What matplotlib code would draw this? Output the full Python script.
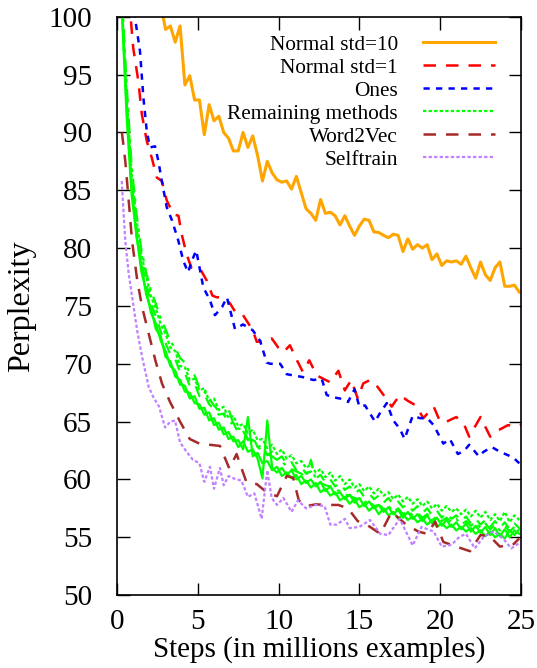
import numpy as np
import matplotlib
matplotlib.use('Agg')
import matplotlib.pyplot as plt

plt.rcParams['font.family'] = ['Liberation Serif', 'DejaVu Serif']

# data (x in millions of examples, y = perplexity)
normal10_steps = 0.3 * np.arange(9, 84)
normal10 = [101.1, 98.9, 99.2, 97.8, 99.2, 94.1, 94.9, 92.8, 92.8, 89.8,
            92.4, 91.0, 91.4, 90.0, 89.5, 88.4, 88.4, 90.0, 88.7, 89.7,
            88.0, 85.8, 87.5, 86.5, 85.9, 85.7, 85.8, 85.1, 86.2, 84.8,
            83.4, 83.0, 82.4,
            84.2, 83.0, 83.1, 82.8, 82.0, 82.8, 81.9, 81.1, 81.9, 82.5,
            82.4, 81.4, 81.35, 81.1, 80.9, 81.2, 81.1, 79.7, 80.8, 79.9,
            80.3, 80.0, 80.3, 79.0, 79.5, 78.5, 78.9, 78.8, 78.9, 78.6,
            79.3, 78.3, 77.4, 78.8, 77.7, 77.2, 78.3, 78.8, 76.7, 76.7,
            76.8, 76.2]

normal1_steps = [0.6, 1.0, 1.32, 1.53, 1.84, 2.15, 2.46, 2.77, 3.08, 3.5,
                 3.8, 4.0, 4.3, 4.6, 5.1, 5.55, 5.9, 6.16, 6.6, 7.0,
                 7.4, 7.8, 8.4, 8.65, 9.27, 9.57, 9.98, 10.3, 10.7, 11.1,
                 11.5, 11.9, 12.36, 12.77, 13.2, 13.7, 14.1, 14.5, 14.9, 15.24,
                 15.66, 15.97, 16.5, 17.0, 17.5, 18.0, 18.5, 18.96, 19.6, 20.0,
                 20.4, 21.0, 21.5, 21.8, 22.5, 23.1, 23.6, 24.2, 24.7, 25.0]
normal1 = [104.0, 97.3, 94.4, 91.6, 89.25, 87.8, 86.1, 85.8, 84.1, 82.9,
           82.8, 81.2, 79.5, 78.3, 78.3, 77.2, 75.9, 75.75, 75.75, 75.2,
           74.3, 74.2, 72.9, 71.9, 72.0, 72.2, 71.4, 71.0, 71.6, 70.4,
           69.3, 70.3, 69.0, 68.7, 68.4, 69.4, 67.7, 68.6, 67.0, 68.3,
           68.6, 68.3, 67.3, 66.3, 67.3, 66.8, 66.4, 65.3, 66.3, 65.0,
           65.0, 65.4, 64.7, 63.7, 65.4, 63.7, 64.25, 64.7, 64.55, 64.7]

ones_steps = [0.9, 1.1, 1.42, 1.63, 1.84, 2.04, 2.35, 2.56, 2.77, 3.08,
              3.4, 3.8, 4.1, 4.4, 4.6, 4.9, 5.34, 5.75, 6.06, 6.5,
              6.8, 7.3, 7.8, 8.4, 8.85, 9.27, 9.5, 10.1, 10.5, 10.9,
              11.5, 12.15, 12.67, 12.98, 13.4, 13.8, 14.3, 14.7, 15.0, 15.35,
              15.97, 16.3, 16.7, 17.1, 17.5, 17.8, 18.3, 18.75, 19.2, 19.6,
              20.2, 20.6, 21.1, 21.5, 21.8, 22.4, 22.7, 23.2, 23.7, 24.2,
              24.6, 24.9]
ones = [104.0, 100.0, 97.0, 93.0, 90.1, 88.7, 88.8, 87.5, 85.8, 83.5,
        82.4, 80.6, 78.9, 77.9, 78.8, 79.8, 76.6, 75.5, 74.2, 74.9,
        75.75, 73.0, 73.4, 72.9, 72.0, 70.1, 70.0, 70.0, 69.1, 69.0,
        68.85, 68.6, 68.7, 67.3, 67.1, 67.0, 66.7, 67.8, 66.3, 66.4,
        65.0, 65.8, 66.6, 65.1, 64.4, 63.5, 65.5, 65.3, 65.3, 64.7,
        63.1, 63.5, 62.2, 62.5, 63.0, 62.0, 62.4, 62.8, 62.4, 62.1,
        61.8, 61.4]

# "Remaining methods": several runs, all drawn in green
remaining_solid_a = [100.3, 91.2, 84.6, 81.2, 78.0, 76.3, 74.4, 73.5, 72.0, 71.1,
                     69.8, 69.4, 68.2, 68.1, 67.0, 67.2, 66.1, 66.2, 65.1, 65.3,
                     64.3, 64.5, 63.5, 63.7, 62.8, 63.3, 62.4, 62.6, 61.8, 60.1,
                     65.1, 61.0, 60.6, 61.0, 60.4, 60.8, 60.0, 60.3, 59.7, 60.0,
                     59.4, 59.8, 59.0, 59.4, 58.7, 58.9, 58.3, 58.7, 58.0, 58.4,
                     57.7, 58.1, 57.5, 57.8, 57.2, 57.6, 57.0, 57.4, 56.7, 57.2,
                     56.6, 57.0, 56.4, 56.9, 56.2, 56.7, 56.0, 56.5, 55.9, 56.3,
                     55.7, 56.2, 55.5, 56.0, 55.4, 55.9, 55.2, 55.8, 55.1, 55.7,
                     55.0, 55.6, 55.3]
remaining_solid_b = [100.8, 92.5, 85.5, 81.0, 78.6, 76.0, 74.8, 73.0, 72.4, 70.6,
                     70.2, 68.9, 68.6, 67.6, 67.5, 66.6, 66.5, 65.6, 65.8, 64.7,
                     64.9, 63.9, 64.1, 63.3, 63.4, 62.6, 65.4, 62.0, 62.3, 61.4,
                     61.6, 60.8, 61.1, 60.3, 60.6, 60.1, 60.4, 59.6, 59.9, 59.3,
                     59.7, 58.9, 59.2, 58.6, 58.9, 58.2, 58.5, 57.9, 58.3, 57.6,
                     57.9, 57.3, 57.7, 57.0, 57.5, 56.9, 57.2, 56.6, 57.0, 56.5,
                     56.8, 56.3, 56.6, 56.1, 56.5, 55.9, 56.2, 55.8, 56.1, 55.6,
                     55.9, 55.5, 55.8, 55.3, 55.6, 55.1, 55.5, 55.0, 55.3, 54.9,
                     55.6, 55.2, 55.7]
remaining_dashed = [100.8, 92.0, 85.6, 81.8, 78.8, 77.0, 75.2, 74.1, 72.8, 71.8,
                    70.8, 70.4, 69.3, 69.2, 68.1, 68.3, 67.2, 67.4, 66.5, 66.1,
                    65.6, 65.7, 64.8, 64.9, 64.0, 64.2, 63.4, 63.7, 62.8, 63.0,
                    62.1, 62.4, 61.7, 62.0, 61.3, 61.5, 60.8, 61.1, 60.5, 60.7,
                    60.1, 60.4, 59.7, 60.0, 59.4, 59.7, 59.1, 59.4, 58.8, 59.1,
                    58.5, 58.8, 58.3, 58.6, 58.0, 58.4, 57.8, 58.1, 57.6, 57.9,
                    57.3, 57.7, 57.1, 57.5, 56.9, 57.3, 56.7, 57.1, 56.6, 56.9,
                    56.4, 56.8, 56.2, 56.6, 56.1, 56.5, 55.9, 56.4, 55.8, 56.3,
                    55.7, 56.2, 55.8]
remaining_dotted = [101.3, 93.0, 86.5, 82.5, 79.5, 77.6, 75.8, 74.8, 73.4, 72.6,
                    71.4, 71.1, 69.8, 69.7, 68.6, 68.7, 67.7, 67.9, 66.8, 67.0,
                    66.0, 66.3, 65.3, 65.5, 64.6, 64.8, 64.0, 64.3, 63.4, 63.5,
                    62.7, 63.0, 62.2, 62.6, 61.8, 62.1, 61.4, 61.6, 61.0, 61.3,
                    60.6, 60.9, 60.2, 60.6, 59.9, 60.3, 59.6, 60.0, 59.3, 59.6,
                    59.0, 59.4, 58.8, 59.2, 58.6, 58.9, 58.3, 58.7, 58.1, 58.5,
                    57.9, 58.3, 57.7, 58.1, 57.5, 57.9, 57.3, 57.7, 57.2, 57.5,
                    57.0, 57.4, 56.8, 57.3, 56.7, 57.2, 56.5, 57.0, 56.4, 57.2,
                    56.3, 56.9, 56.5]
remaining_dashdot = [101.8, 94.0, 87.2, 83.0, 79.9, 77.9, 76.3, 75.2, 73.9, 73.0,
                     71.9, 71.4, 70.5, 70.1, 69.2, 69.0, 67.9, 67.6, 67.0, 66.4,
                     65.9, 65.6, 66.1, 64.8, 64.4, 64.3, 63.5, 63.4, 62.8, 62.5,
                     62.2, 62.0, 61.7, 61.5, 61.2, 60.9, 60.7, 60.5, 60.2, 61.7,
                     59.9, 59.7, 59.5, 59.4, 59.1, 59.0, 58.7, 58.6, 58.4, 58.3,
                     58.0, 58.2, 57.7, 57.8, 57.5, 57.7, 57.2, 57.5, 57.0, 57.3,
                     56.9, 57.1, 56.7, 57.0, 56.5, 56.8, 56.4, 56.7, 56.3, 56.6,
                     56.1, 56.4, 56.0, 56.3, 55.8, 56.2, 55.7, 56.1, 55.6, 56.0,
                     55.5, 55.9, 55.6]

word2vec_steps = [0.3, 0.51, 0.72, 0.93, 1.24, 1.55, 1.96, 2.37, 2.78, 3.28,
                  3.9, 4.5, 5.1, 5.75, 6.37, 6.95, 7.4, 8.0, 8.65, 9.26,
                  9.9, 10.5, 10.9, 11.25, 11.7, 12.3, 13.0, 13.7, 14.3, 14.9,
                  15.45, 16.3, 17.0, 17.9, 18.65, 19.2, 19.7, 20.2, 21.0, 21.85,
                  22.5, 23.1, 23.7, 24.5, 24.9]
word2vec = [90.0, 87.5, 84.1, 80.6, 77.3, 74.9, 72.6, 70.3, 68.3, 66.7,
            65.0, 63.5, 63.1, 63.0, 62.9, 60.95, 62.2, 59.8, 59.6, 58.9,
            58.55, 60.3, 60.15, 58.2, 57.7, 57.85, 57.8, 57.8, 57.5, 56.4,
            56.1, 55.3, 57.2, 56.1, 55.5, 55.3, 56.35, 54.6, 54.2, 53.8,
            55.2, 55.05, 54.2, 54.35, 54.9]

selftrain_steps = [0.29, 0.41, 0.51, 0.72, 0.93, 1.24, 1.55, 1.96, 2.25, 2.6,
                   2.97, 3.3, 3.59, 3.9, 4.3, 4.7, 5.1, 5.4, 5.75, 6.0,
                   6.37, 6.6, 6.9, 7.2, 7.7, 8.1, 8.5, 8.95, 9.3, 9.57,
                   9.9, 10.3, 10.8, 11.2, 11.7, 12.3, 12.85, 13.2, 13.6, 14.1,
                   14.4, 15.0, 15.66, 16.3, 16.8, 17.5, 18.3, 18.85, 19.6, 20.1,
                   20.7, 21.2, 21.6, 22.15, 22.7, 23.3, 23.9, 24.4, 24.9]
selftrain = [85.8, 82.9, 80.6, 77.8, 75.8, 72.9, 70.6, 68.0, 67.1, 66.3,
             64.5, 65.0, 65.1, 63.2, 62.4, 61.7, 61.4, 59.8, 61.1, 59.2,
             61.0, 59.5, 60.3, 60.1, 59.9, 58.5, 58.8, 56.6, 60.8, 58.4,
             57.8, 58.4, 57.2, 58.2, 57.5, 57.8, 57.7, 56.1, 56.1, 56.6,
             55.8, 55.9, 56.5, 55.3, 55.2, 56.6, 54.3, 55.9, 55.5, 54.2,
             54.35, 55.05, 55.3, 54.05, 55.05, 55.5, 54.9, 54.05, 54.5]

ORANGE = '#ffa500'
RED = '#ff0000'
BLUE = '#0000ff'
GREEN = '#00ff00'
BROWN = '#a52a2a'
PURPLE = '#c080ff'


def green_steps(values):
    return 0.3 * np.arange(1, len(values) + 1)


fig = plt.figure(figsize=(5.37, 6.68), dpi=100)
ax = fig.add_axes([0.218, 0.109, 0.752, 0.866])

ax.plot(normal10_steps, normal10, color=ORANGE, lw=2.2, label='Normal std=10')
ax.plot(normal1_steps, normal1, color=RED, lw=1.8, dashes=(5, 4),
        label='Normal std=1')
ax.plot(ones_steps, ones, color=BLUE, lw=1.8, dashes=(2.5, 2.5), label='Ones')

ax.plot(green_steps(remaining_solid_a), remaining_solid_a, color=GREEN, lw=1.6)
ax.plot(green_steps(remaining_solid_b), remaining_solid_b, color=GREEN, lw=1.6)
ax.plot(green_steps(remaining_dashed), remaining_dashed, color=GREEN, lw=1.6,
        dashes=(5, 4))
ax.plot(green_steps(remaining_dashdot), remaining_dashdot, color=GREEN, lw=1.6,
        dashes=(6, 3, 1.5, 3))
ax.plot(green_steps(remaining_dotted), remaining_dotted, color=GREEN, lw=1.6,
        dashes=(1.5, 1), label='Remaining methods')

ax.plot(word2vec_steps, word2vec, color=BROWN, lw=1.8, dashes=(5, 4),
        label='Word2Vec')
ax.plot(selftrain_steps, selftrain, color=PURPLE, lw=1.6, dashes=(1.5, 1),
        label='Selftrain')

ax.set_xlim(0, 25)
ax.set_ylim(50, 100)
ax.set_xticks(range(0, 26, 5))
ax.set_yticks(range(50, 101, 5))
ax.tick_params(direction='in', top=True, right=True, length=9, width=1,
               labelsize=21)
ax.tick_params(axis='y', pad=18)
ax.tick_params(axis='x', pad=10)
for side in ax.spines.values():
    side.set_linewidth(1.2)

ax.set_xlabel('Steps (in millions examples)', fontsize=21, labelpad=1)
ax.set_ylabel('Perplexity', fontsize=23, labelpad=9)

ax.legend(loc='upper right', bbox_to_anchor=(0.936, 0.969), frameon=False,
          markerfirst=False, fontsize=15.3, handlelength=3.4, handletextpad=1.18,
          labelspacing=0.15, borderpad=0, borderaxespad=0)

fig.savefig('out.png', dpi=100)
